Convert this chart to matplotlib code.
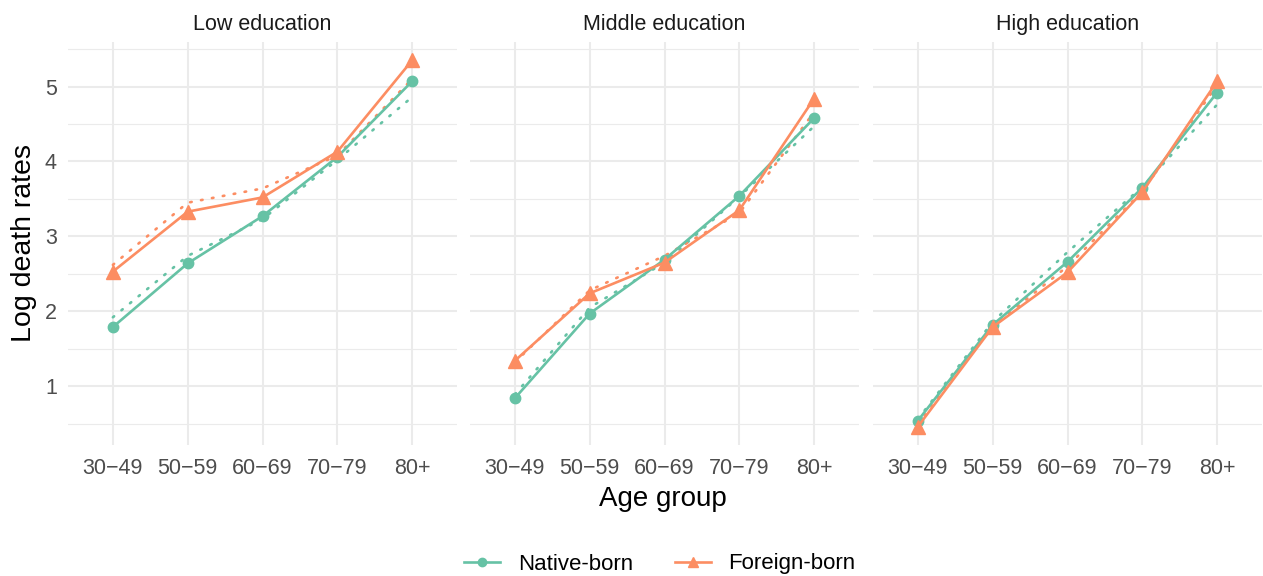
import matplotlib
matplotlib.use("Agg")
import matplotlib.pyplot as plt
from matplotlib.lines import Line2D
from matplotlib.ticker import MultipleLocator

plt.rcParams["font.family"] = ["Liberation Sans", "DejaVu Sans"]

age_groups = ["30\u221249", "50\u221259", "60\u221269", "70\u221279", "80+"]
panels = ["Low education", "Middle education", "High education"]

native_obs = {
    "Low education":    [1.79, 2.64, 3.27, 4.06, 5.07],
    "Middle education": [0.84, 1.97, 2.69, 3.54, 4.58],
    "High education":   [0.54, 1.82, 2.66, 3.65, 4.92],
}
foreign_obs = {
    "Low education":    [2.53, 3.33, 3.52, 4.13, 5.35],
    "Middle education": [1.34, 2.24, 2.65, 3.35, 4.84],
    "High education":   [0.46, 1.79, 2.52, 3.59, 5.07],
}
native_fit = {
    "Low education":    [1.92, 2.74, 3.23, 4.02, 4.86],
    "Middle education": [0.89, 2.05, 2.65, 3.53, 4.47],
    "High education":   [0.56, 1.86, 2.79, 3.66, 4.76],
}
foreign_fit = {
    "Low education":    [2.62, 3.45, 3.64, 4.08, 5.10],
    "Middle education": [1.32, 2.28, 2.74, 3.31, 4.66],
    "High education":   [0.49, 1.80, 2.60, 3.60, 5.02],
}

GREEN = "#66C2A5"
ORANGE = "#FC8D62"
GRID = "#EBEBEB"
TXT = "#4D4D4D"

fig = plt.figure(figsize=(12.63, 5.76), dpi=100)
W, H = 1263, 576
lefts = [68, 470, 873]
pw = 389
top, bottom = 42, 445
axes = []
x = list(range(len(age_groups)))
for i, (p, l) in enumerate(zip(panels, lefts)):
    ax = fig.add_axes([l / W, 1 - bottom / H, pw / W, (bottom - top) / H])
    axes.append(ax)
    ax.set_xlim(-0.6, 4.6)
    ax.set_ylim(0.215, 5.595)
    ax.yaxis.set_major_locator(MultipleLocator(1))
    ax.yaxis.set_minor_locator(MultipleLocator(0.5))
    ax.set_xticks(x)
    ax.set_xticklabels(age_groups)
    ax.grid(which="major", color=GRID, lw=1.5, zorder=0)
    ax.grid(which="minor", axis="y", color=GRID, lw=0.8, zorder=0)
    for s in ax.spines.values():
        s.set_visible(False)
    ax.tick_params(which="both", length=0, labelsize=15.5, labelcolor=TXT)
    ax.tick_params(axis="x", pad=9.5)
    ax.tick_params(axis="y", pad=8)
    if i > 0:
        ax.tick_params(axis="y", labelleft=False)
    ax.set_title(p, fontsize=15.5, color="#1A1A1A", pad=8.5)
    ax.plot(x, native_fit[p], color=GREEN, lw=1.9, ls=(0, (0.6, 3.6)),
            dash_capstyle="round", zorder=2)
    ax.plot(x, foreign_fit[p], color=ORANGE, lw=1.9, ls=(0, (0.6, 3.6)),
            dash_capstyle="round", zorder=2)
    ax.plot(x, native_obs[p], color=GREEN, lw=1.9, marker="o", ms=7.5, zorder=3)
    ax.plot(x, foreign_obs[p], color=ORANGE, lw=1.9, marker="^", ms=9.5, zorder=3)

axes[0].set_ylabel("Log death rates", fontsize=20.5, color="black", labelpad=6)
fig.text(663 / W, 1 - 499 / H, "Age group", fontsize=20, ha="center", va="center")

handles = [
    Line2D([0], [0], color=GREEN, lw=1.9, marker="o", ms=6),
    Line2D([0], [0], color=ORANGE, lw=1.9, marker="^", ms=7.5),
]
fig.legend(handles, ["Native-born", "Foreign-born"], loc="center",
           bbox_to_anchor=(660 / W, 1 - 564 / H), ncol=2, frameon=False,
           fontsize=16, handlelength=1.6, columnspacing=1.9, handletextpad=0.8)

fig.savefig("out.png", dpi=100)
